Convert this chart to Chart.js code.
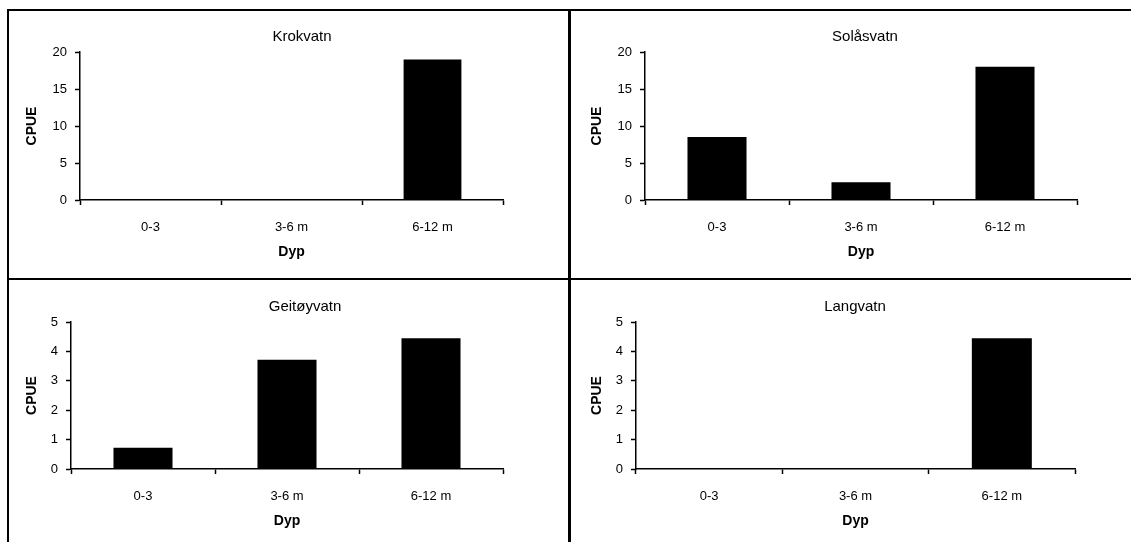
<!DOCTYPE html>
<html>
  <head>
    <meta charset="utf-8">
    <title>CPUE etter dyp</title>
    <script src="https://cdn.jsdelivr.net/npm/chart.js@4/dist/chart.umd.min.js"></script>
    <style>
      html, body {
        margin: 0;
        padding: 0;
        width: 1131px;
        height: 542px;
        overflow: hidden;
        background: #fff;
        font-family: "Liberation Sans", Arial, sans-serif;
      }
      .panel {
        position: absolute;
        border: 2px solid #000;
        box-sizing: border-box;
      }
      .wrap { position: absolute; }
      .ttl {
        position: absolute;
        font-size: 15px;
        color: #000;
        transform: translate(-50%, -50%);
        white-space: nowrap;
      }
    </style>
  </head>
  <body>
    <div class="panel" style="left:7px;top:9px;width:563px;height:271px"></div>
    <div class="panel" style="left:569px;top:9px;width:565px;height:271px"></div>
    <div class="panel" style="left:7px;top:278px;width:563px;height:280px"></div>
    <div class="panel" style="left:569px;top:278px;width:565px;height:280px"></div>

    <div class="wrap" style="left:9px;top:11px;width:559px;height:267px"><canvas id="c1"></canvas></div>
    <div class="wrap" style="left:571px;top:11px;width:559px;height:267px"><canvas id="c2"></canvas></div>
    <div class="wrap" style="left:9px;top:280px;width:559px;height:262px"><canvas id="c3"></canvas></div>
    <div class="wrap" style="left:571px;top:280px;width:559px;height:262px"><canvas id="c4"></canvas></div>

    <div class="ttl" style="left:302px;top:35px">Krokvatn</div>
    <div class="ttl" style="left:865px;top:35px">Solåsvatn</div>
    <div class="ttl" style="left:305px;top:305px">Geitøyvatn</div>
    <div class="ttl" style="left:855px;top:305px">Langvatn</div>

    <script>
      // data
      var categories = ['0-3', '3-6 m', '6-12 m'];
      var krokvatn = [0, 0, 19];
      var solasvatn = [8.5, 2.4, 18];
      var geitoyvatn = [0.72, 3.72, 4.45];
      var langvatn = [0, 0, 4.45];
      var xTitle = 'Dyp';
      var yTitle = 'CPUE';

      var FONT = "'Liberation Sans', Arial, sans-serif";

      function makeChart(id, values, yMax, yStep, geo) {
        var ctx = document.getElementById(id).getContext('2d');
        return new Chart(ctx, {
          type: 'bar',
          data: {
            labels: categories,
            datasets: [{
              data: values,
              backgroundColor: '#000',
              borderWidth: 0,
              categoryPercentage: 1,
              barPercentage: 0.41
            }]
          },
          options: {
            responsive: true,
            maintainAspectRatio: false,
            animation: false,
            layout: { padding: { left: 0, right: geo.pr, top: geo.pt, bottom: 0 } },
            plugins: {
              legend: { display: false },
              tooltip: { enabled: false },
              title: { display: false }
            },
            scales: {
              x: {
                grid: { drawOnChartArea: false, color: '#000', tickLength: 5, tickWidth: 1.5 },
                border: { color: '#000', width: 1.5 },
                ticks: { color: '#000', padding: 15, font: { family: FONT, size: 13 } },
                title: {
                  display: true, text: xTitle, color: '#000',
                  font: { family: FONT, size: 14, weight: 'bold' },
                  padding: { top: 0, bottom: geo.xtp }
                },
                afterFit: function (s) { s.height = geo.xh; }
              },
              y: {
                min: 0,
                max: yMax,
                grid: { drawOnChartArea: false, color: '#000', tickLength: 5, tickWidth: 1.5 },
                border: { color: '#000', width: 1.5 },
                ticks: { stepSize: yStep, color: '#000', padding: 8, font: { family: FONT, size: 13 } },
                title: {
                  display: true, text: yTitle, color: '#000',
                  font: { family: FONT, size: 14, weight: 'bold' },
                  padding: { top: geo.ytp, bottom: 0 }
                },
                afterFit: function (s) { s.width = geo.yw; }
              }
            }
          }
        });
      }

      makeChart('c1', krokvatn, 20, 5, { yw: 71, pr: 65, pt: 41, xh: 78, xtp: 17, ytp: 15 });
      makeChart('c2', solasvatn, 20, 5, { yw: 74, pr: 53, pt: 41, xh: 78, xtp: 17, ytp: 18 });
      makeChart('c3', geitoyvatn, 5, 1, { yw: 62, pr: 65, pt: 42, xh: 73, xtp: 12, ytp: 15 });
      makeChart('c4', langvatn, 5, 1, { yw: 65, pr: 55, pt: 42, xh: 73, xtp: 12, ytp: 18 });
    </script>
  </body>
</html>
